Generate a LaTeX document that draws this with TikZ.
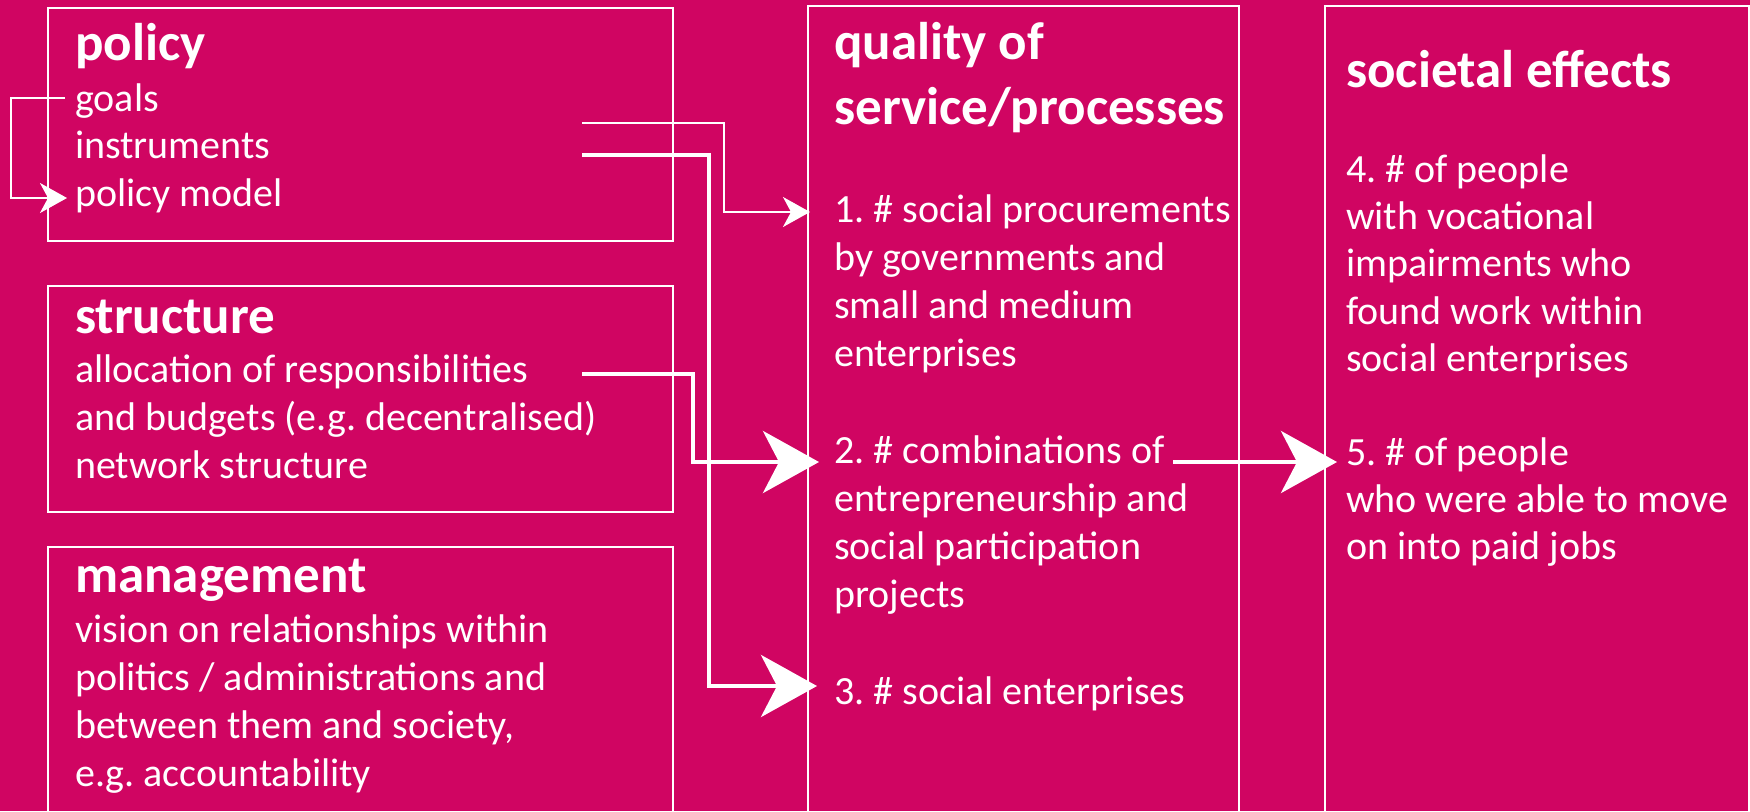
\documentclass[tikz,border=0pt]{standalone}
\usepackage{fontspec}
\setmainfont{Carlito}
\usetikzlibrary{arrows.meta}

\definecolor{magbg}{RGB}{208,5,98}
\newcommand{\bodyfont}{\fontsize{40}{48.2}\selectfont\frenchspacing}
\newcommand{\headfont}{\fontsize{53}{65}\selectfont\bfseries}

\begin{document}
\begin{tikzpicture}[x=1pt, y=-1pt,
  box/.style={draw=white, line width=2pt, anchor=north west, inner sep=0pt},
  head/.style={text=white, font=\headfont, anchor=base west, inner sep=0pt, text width=420pt, align=flush left},
  txt/.style={text=white, font=\bodyfont, anchor=base west, inner sep=0pt, text width=420pt, align=flush left},
  txtr/.style={txt, font=\fontsize{40}{47.4}\selectfont\frenchspacing},
  thinarr/.style={draw=white, line width=2pt, -{Stealth[length=27pt, width=30pt, inset=8pt]}},
  thickarr/.style={draw=white, line width=4.5pt, -{Stealth[length=56pt, width=62pt, inset=16pt]}}]

% Background
\fill[magbg] (0,0) rectangle (1750,811);
\useasboundingbox (0,0) rectangle (1750,811);

% Boxes
\node[box, minimum width=625pt, minimum height=233pt] (policy) at (47,7) {};
\node[box, minimum width=625pt, minimum height=226pt] (structure) at (47,285) {};
\node[box, minimum width=625pt, minimum height=290pt] (management) at (47,546) {};
\node[box, minimum width=431pt, minimum height=830pt] (quality) at (807,5) {};
\node[box, minimum width=424pt, minimum height=830pt] (societal) at (1324,5) {};

% Left column
\node[head] (polhead) at (75,60) {policy};
\node[txt] (goals) at (75,111) {goals};
\node[txt] (instr) at (75,158) {instruments};
\node[txt] (pmodel) at (75,206) {policy model};

\node[head] (strhead) at (75,333) {structure};
\node[txt, text width=560pt] (strtxt) at (75,382) {allocation of responsibilities\\and budgets (e.g. decentralised)\\network structure};

\node[head] (manhead) at (75,592) {management};
\node[txt, text width=560pt] (mantxt) at (75,642) {vision on relationships within\\politics / administrations and\\between them and society,\\e.g. accountability};

% Middle column
\node[head] (qualhead) at (834,59) {quality of\\service/processes};
\node[txt] (q1) at (834,222) {1. \# social procurements\\by governments and\\small and medium\\enterprises};
\node[txt] (q2) at (834,463) {2. \# combinations of\\entrepreneurship and\\social participation\\projects};
\node[txt] (q3) at (834,704) {3. \# social enterprises};

% Right column
\node[head] (sochead) at (1346,87) {societal effects};
\node[txtr] (s4) at (1346,182) {4. \# of people\\with vocational\\impairments who\\found work within\\social enterprises};
\node[txtr] (s5) at (1346,465) {5. \# of people\\who were able to move\\on into paid jobs};

% Start points
\coordinate (pol1) at (582,123);
\coordinate (pol2) at (582,155);
\coordinate (str1) at (582,374);
\coordinate (q2out) at (1173,462);

% Connectors
\draw[thinarr] ([shift={(-10,-13)}]goals.base west) -- ++(-54,0) |- ([shift={(-8,-8)}]pmodel.base west);
\draw[thinarr] (pol1) -- ++(142,0) |- ([shift={(-24,-10)}]q1.base west);
\draw[thickarr] (pol2) -- ++(127,0) |- ([shift={(-17,-18)}]q3.base west);
\draw[thickarr] (str1) -- ++(111,0) |- ([shift={(-15,-1)}]q2.base west);
\draw[thickarr] (q2out) -- ([shift={(-9,-3)}]s5.base west);

\end{tikzpicture}
\end{document}
